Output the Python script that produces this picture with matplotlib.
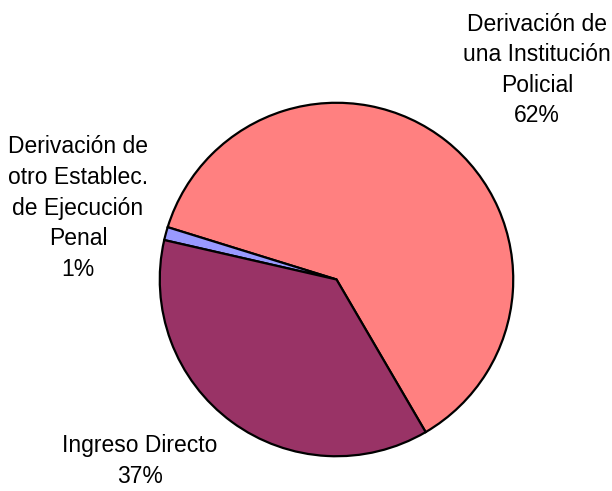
import matplotlib.pyplot as plt

labels = ["Derivación de\nuna Institución\nPolicial", "Derivación de\notro Establec.\nde Ejecución\nPenal", "Ingreso Directo"]
values = [61.8, 1.2, 37.0]
shown_pct = [62, 1, 37]
colors = ["#FF8080", "#9999FF", "#993366"]

plt.rcParams["font.family"] = ["Liberation Sans", "DejaVu Sans"]

fig = plt.figure(figsize=(6.12, 4.91), dpi=100)
cx, cy, r = 336.5, 279.5, 178.5
ax = fig.add_axes([(cx - r) / 612, (491 - cy - r) / 491, 2 * r / 612, 2 * r / 491])
ax.pie(values, colors=colors, startangle=-59.7, counterclock=True,
       wedgeprops=dict(edgecolor="black", linewidth=1.6))
ax.set_xlim(-1.01, 1.01)
ax.set_ylim(-1.01, 1.01)
ax.set_aspect("equal")
ax.axis("off")

# label positions in pixels (x, y from top)
pos = [(537, 70), (78, 208), (140, 461)]
for lab, p, (px, py) in zip(labels, shown_pct, pos):
    fig.text(px / 612, 1 - py / 491, f"{lab}\n{p}%", ha="center", va="center",
             fontsize=16.5, linespacing=1.42)

fig.savefig("out.png", dpi=100)
